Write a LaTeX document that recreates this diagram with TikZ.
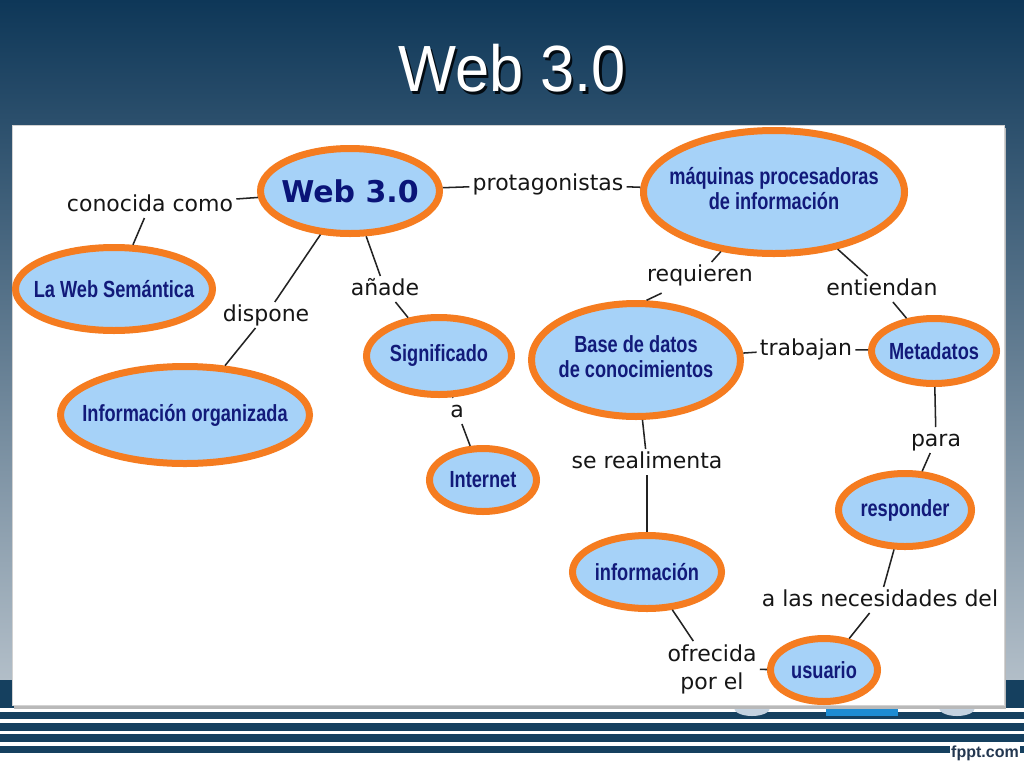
\documentclass[tikz,border=0pt]{standalone}
\usepackage{fontspec}
\setmainfont{DejaVu Sans}
\newfontfamily\linkfont{DejaVu Sans}
\newfontfamily\webfont{DejaVu Sans}
\newfontfamily\cfont{Liberation Sans}[FakeStretch=0.78]
\newfontfamily\titlefont{Liberation Sans}
\newfontfamily\fpptfont{Liberation Sans}
\usetikzlibrary{shapes.geometric}
\definecolor{bgtop}{RGB}{14,55,88}
\definecolor{bgmid}{RGB}{72,106,132}
\definecolor{bgbot}{RGB}{178,190,200}
\definecolor{stripe}{RGB}{21,64,95}
\definecolor{cblue}{RGB}{166,210,248}
\definecolor{corange}{RGB}{245,124,32}
\definecolor{cnavy}{RGB}{18,26,122}
\definecolor{webnavy}{RGB}{10,20,120}
\definecolor{linkc}{RGB}{22,22,22}
\definecolor{linec}{RGB}{35,35,35}
\definecolor{fpptc}{RGB}{35,55,80}
\definecolor{blobc}{RGB}{196,210,224}
\definecolor{barc}{RGB}{30,140,210}
\newcommand\cmtext[1]{\makebox[0pt]{\begin{tabular}{@{}c@{}}#1\end{tabular}}}
\newcommand\fpptword{\fpptfont\bfseries\fontsize{12}{13}\selectfont fppt.com}
\begin{document}
\begin{tikzpicture}[x=0.75pt,y=-0.75pt,
  concept/.style 2 args={ellipse, draw=corange, fill=cblue, line width=5.25pt,
    inner sep=0pt, outer sep=2.625pt,
    minimum width={(2*#1-7)*0.75pt}, minimum height={(2*#2-7)*0.75pt},
    text=cnavy, font=\cfont\bfseries\fontsize{17.5}{18.5}\selectfont},
  webstyle/.style={text=webnavy, font=\webfont\bfseries\fontsize{22.5}{27}\selectfont},
  linkbase/.style={font=\linkfont\fontsize{16.5}{21}\selectfont, text=linkc, inner sep=2.25pt},
  link/.style={linkbase, text height=12pt, text depth=2.6pt},
  conn/.style={draw=linec, line width=1.15pt}]
\useasboundingbox (0,0) rectangle (1024,768);
% background
\fill[white] (0,0) rectangle (1024,768);
\shade[top color=bgtop, middle color=bgmid, bottom color=bgbot] (0,0) rectangle (1024,680);
\fill[stripe] (0,680) rectangle (1024,708);
\fill[stripe] (0,712) rectangle (1024,719);
\fill[stripe] (0,723) rectangle (1024,731);
\fill[stripe] (0,734) rectangle (1024,742);
\fill[stripe] (0,746) rectangle (1024,753);
% remnants under the panel
\fill[blobc] (752,708) ellipse [x radius=18, y radius=8];
\fill[barc] (826,700) rectangle (898,716);
\fill[blobc] (957,708) ellipse [x radius=18, y radius=8];
% panel
\fill[gray!55] (14,128) rectangle (1006,709);
\draw[fill=white, draw=gray!35, line width=0.75pt] (12,125) rectangle (1004,705);
% title
\node[text=black!80!bgtop] (titleshadow) at (514.5,71) {\titlefont\fontsize{49}{50}\selectfont\scalebox{0.94}[1]{Web 3.0}};
\node[text=white] (title) at (512,68.5) {\titlefont\fontsize{49}{50}\selectfont\scalebox{0.94}[1]{Web 3.0}};
% fppt.com on a white patch
\node[fill=white, text=fpptc, inner sep=1pt] (fppt) at (985,753) {\fpptword};
% concepts
\node[concept={93}{46}, webstyle] (web) at (350,191) {\makebox[0pt]{Web 3.0}};
\node[concept={134}{65}] (maq) at (774,192) {\cmtext{máquinas procesadoras\\de información}};
\node[concept={102}{45}] (lws) at (114,289) {\makebox[0pt]{La Web Semántica}};
\node[concept={128}{52}] (info) at (185,415) {\makebox[0pt]{Información organizada}};
\node[concept={76}{42}] (sig) at (439,356) {\makebox[0pt]{Significado}};
\node[concept={57}{35}] (int) at (483,480) {\makebox[0pt]{Internet}};
\node[concept={108}{60}] (base) at (636,360) {\cmtext{Base de datos\\de conocimientos}};
\node[concept={66}{36}] (meta) at (934,351) {\makebox[0pt]{Metadatos}};
\node[concept={70}{40}] (resp) at (905,510) {\makebox[0pt]{responder}};
\node[concept={78}{40}] (infn) at (647,572) {\makebox[0pt]{información}};
\node[concept={57}{35}] (usu) at (824,670) {\makebox[0pt]{usuario}};
% linking phrases
\node[link] (conoc) at (150,205) {conocida como};
\node[link] (prot) at (548,184) {protagonistas};
\node[link] (req) at (700,275) {requieren};
\node[link] (ent) at (882,289) {entiendan};
\node[link] (trab) at (806,349) {trabajan};
\node[link] (disp) at (266,315) {dispone};
\node[link] (anade) at (385,289) {añade};
\node[link] (aa) at (457,411) {a};
\node[link] (serea) at (647,462) {se realimenta};
\node[link] (para) at (936,440) {para};
\node[link] (nec) at (880,600) {a las necesidades del};
\node[linkbase, align=center] (ofre) at (712,669) {ofrecida\\por el};
% connectors
\draw[conn] (web) -- (conoc);
\draw[conn] (conoc) -- (lws);
\draw[conn] (web) -- (disp);
\draw[conn] (disp) -- (info);
\draw[conn] (web) -- (anade);
\draw[conn] (anade) -- (sig);
\draw[conn] (web) -- (prot);
\draw[conn] (prot) -- (maq);
\draw[conn] (maq) -- (req);
\draw[conn, shorten <=9pt] (req) -- (base.80);
\draw[conn] (maq) -- (ent);
\draw[conn] (ent) -- (meta);
\draw[conn] (base) -- (trab);
\draw[conn] (trab) -- (meta);
\draw[conn] (sig) -- (aa);
\draw[conn] (aa) -- (int);
\draw[conn] (base) -- (serea);
\draw[conn] (serea) -- (infn);
\draw[conn] (meta) -- (para);
\draw[conn] (para) -- (resp);
\draw[conn] (resp) -- (nec);
\draw[conn] (nec) -- (usu);
\draw[conn] (infn) -- (ofre);
\draw[conn] (ofre) -- (usu);
\end{tikzpicture}
\end{document}
